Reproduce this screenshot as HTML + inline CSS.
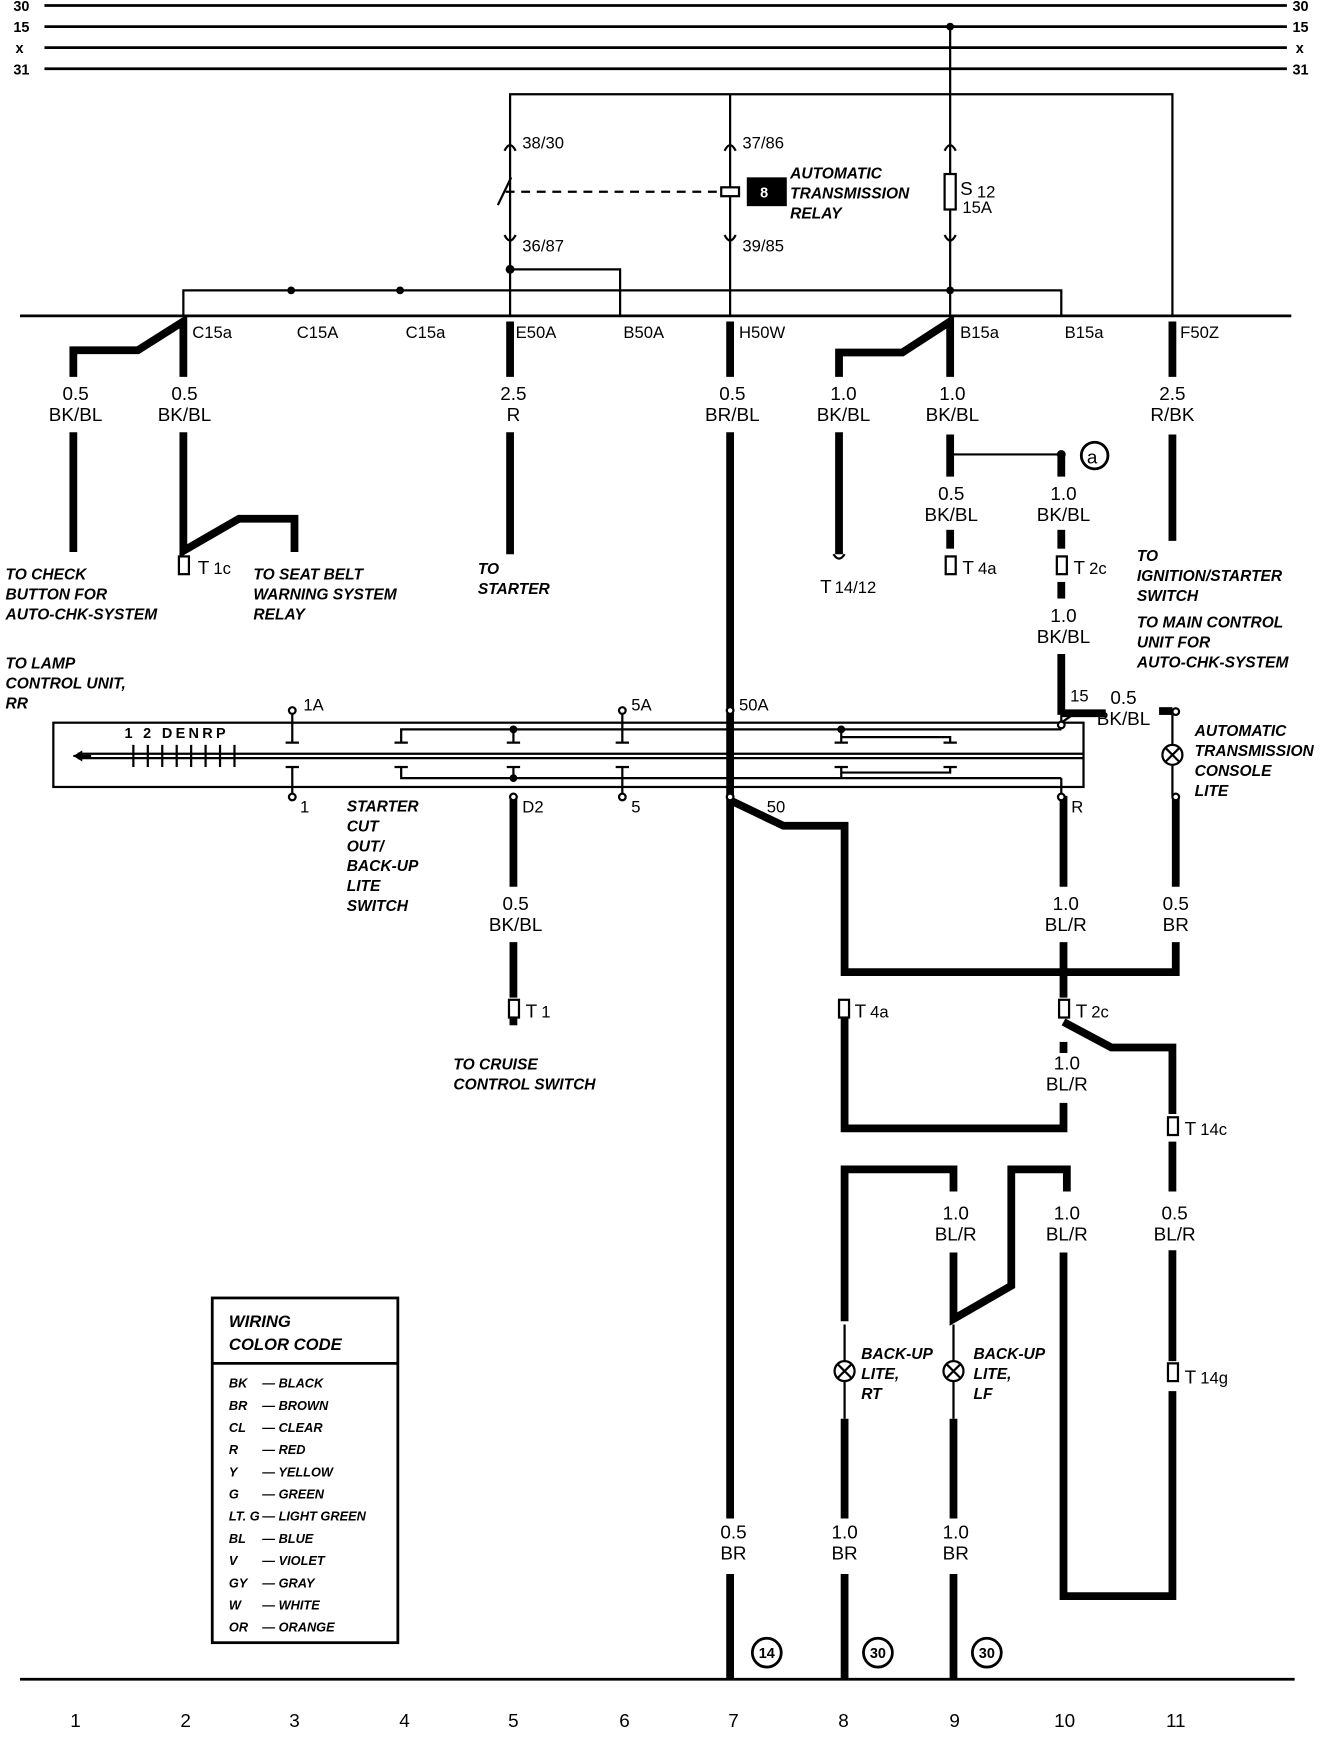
<!DOCTYPE html>
<html><head><meta charset="utf-8"><style>
html,body{margin:0;padding:0;background:#fff;}
svg{display:block;}
.n{font-family:"Liberation Sans",sans-serif;font-size:17px;fill:#000;}
.s{font-family:"Liberation Sans",sans-serif;font-size:15px;fill:#000;}
.b{font-family:"Liberation Sans",sans-serif;font-size:14px;font-weight:bold;font-style:italic;fill:#000;}
.l{font-family:"Liberation Sans",sans-serif;font-size:11.5px;font-weight:bold;font-style:italic;fill:#000;}
.h{font-family:"Liberation Sans",sans-serif;font-size:13px;font-weight:bold;fill:#000;}
</style></head><body>
<svg width="1328" height="1738" viewBox="0 0 1195 1568" preserveAspectRatio="none" xmlns="http://www.w3.org/2000/svg">
<rect width="1195" height="1568" fill="#fff"/>
<g stroke="#000" fill="none" stroke-width="2.5">
<line x1="40" y1="5" x2="1158" y2="5"/><line x1="40" y1="24" x2="1158" y2="24"/>
<line x1="40" y1="43" x2="1158" y2="43"/><line x1="40" y1="62" x2="1158" y2="62"/>
<line x1="18" y1="285" x2="1162" y2="285"/>
<line x1="18" y1="1515" x2="1165" y2="1515"/>
</g>
<g class="h" font-size="13"><text x="12" y="10">30</text><text x="12" y="29">15</text><text x="14" y="48">x</text><text x="12" y="67">31</text>
<text x="1163" y="10">30</text><text x="1163" y="29">15</text><text x="1166" y="48">x</text><text x="1163" y="67">31</text></g>
<g stroke="#000" fill="none" stroke-width="2">
<polyline points="459,285 459,85 1055,85 1055,285"/>
<line x1="657" y1="85" x2="657" y2="285"/>
<line x1="855" y1="24" x2="855" y2="285"/>
<polyline points="459,243 558,243 558,285"/>
<polyline points="165,285 165,262 955,262 955,285"/>
<line x1="455" y1="173" x2="650" y2="173" stroke-dasharray="8,6"/>
<line x1="448" y1="185" x2="460" y2="160"/>
<rect x="649" y="169" width="16" height="8" fill="#fff"/>
<rect x="850" y="157" width="10" height="32" fill="#fff"/>
<path d="M454,136 Q459,126 464,136 M652,136 Q657,126 662,136 M850,136 Q855,126 860,136"/>
<path d="M454,212 Q459,222 464,212 M652,212 Q657,222 662,212 M850,212 Q855,222 860,212"/>
<polyline points="855,410 955,410"/>
</g>
<g fill="#000"><circle cx="855" cy="24" r="3.5"/><circle cx="262" cy="262" r="3.5"/><circle cx="360" cy="262" r="3.5"/><circle cx="855" cy="262" r="3.5"/><circle cx="459" cy="243" r="4"/><circle cx="955" cy="410" r="4"/></g>
<rect x="672" y="160" width="36" height="26" fill="#000"/>
<text x="684" y="178" class="h" style="fill:#fff">8</text>
<text x="711" y="161" class="b">AUTOMATIC</text><text x="711" y="179" class="b">TRANSMISSION</text><text x="711" y="197" class="b">RELAY</text>
<text x="864" y="176" class="n" font-size="22">S</text><text x="879" y="178" class="s">12</text><text x="866" y="192" class="s">15A</text>
<g class="s"><text x="470" y="134">38/30</text><text x="668" y="134">37/86</text><text x="470" y="227">36/87</text><text x="668" y="227">39/85</text>
<text x="173" y="305">C15a</text><text x="267" y="305">C15A</text><text x="365" y="305">C15a</text><text x="464" y="305">E50A</text><text x="561" y="305">B50A</text><text x="665" y="305">H50W</text><text x="864" y="305">B15a</text><text x="958" y="305">B15a</text><text x="1062" y="305">F50Z</text></g>
<g stroke="#000" fill="none" stroke-width="7" stroke-linejoin="miter">
<polyline points="66,340 66,316 124,316 165,290 165,340"/>
<line x1="66" y1="390" x2="66" y2="498"/>
<polyline points="165,390 165,497 215,468 265,468 265,498"/>
<line x1="459" y1="290" x2="459" y2="340"/><line x1="459" y1="390" x2="459" y2="500"/>
<line x1="657" y1="290" x2="657" y2="340"/><line x1="657" y1="390" x2="657" y2="1370"/><line x1="657" y1="1420" x2="657" y2="1515"/>
<polyline points="755,340 755,318 812,318 855,290 855,340"/>
<line x1="755" y1="390" x2="755" y2="500"/>
<line x1="855" y1="392" x2="855" y2="430"/><line x1="855" y1="478" x2="855" y2="495"/>
<line x1="955" y1="410" x2="955" y2="430"/><line x1="955" y1="478" x2="955" y2="495"/>
<line x1="955" y1="525" x2="955" y2="540"/><line x1="955" y1="590" x2="955" y2="645"/>
<line x1="1055" y1="290" x2="1055" y2="340"/><line x1="1055" y1="392" x2="1055" y2="488"/>
<polyline points="657,722 705,745 760,745 760,877 1058,877 1058,850"/>
<line x1="1058" y1="718" x2="1058" y2="800"/>
<line x1="957" y1="718" x2="957" y2="800"/><line x1="957" y1="850" x2="957" y2="900"/>
<polyline points="957,922 1000,945 1055,945 1055,1005"/>
<line x1="1055" y1="1030" x2="1055" y2="1075"/><line x1="1055" y1="1128" x2="1055" y2="1228"/>
<polyline points="1055,1255 1055,1440 957,1440 957,1130"/>
<polyline points="957,940 957,950"/><polyline points="957,995 957,1018 760,1018 760,918"/>
<polyline points="760,1192 760,1055 858,1055 858,1075"/>
<polyline points="858,1130 858,1190 910,1160 910,1055 960,1055 960,1075"/>
<line x1="760" y1="1280" x2="760" y2="1370"/><line x1="760" y1="1420" x2="760" y2="1515"/>
<line x1="858" y1="1280" x2="858" y2="1370"/><line x1="858" y1="1420" x2="858" y2="1515"/>
<line x1="462" y1="718" x2="462" y2="800"/><line x1="462" y1="850" x2="462" y2="900"/>
<line x1="462" y1="918" x2="462" y2="925"/>
</g>
<g stroke="#000" stroke-width="2" fill="none">
<line x1="760" y1="1195" x2="760" y2="1280"/><line x1="858" y1="1195" x2="858" y2="1280"/>
<line x1="1055" y1="645" x2="1055" y2="718"/>
<rect x="48" y="652" width="927" height="58"/>
<line x1="70" y1="680" x2="975" y2="680"/><line x1="70" y1="684" x2="975" y2="684"/>
<polyline points="263,643 263,670"/><polyline points="263,692 263,718"/>
<polyline points="361,670 361,658 955,658"/><polyline points="361,692 361,702 955,702"/>
<line x1="462" y1="658" x2="462" y2="670"/><line x1="462" y1="692" x2="462" y2="702"/>
<line x1="560" y1="643" x2="560" y2="670"/><line x1="560" y1="692" x2="560" y2="718"/>
<line x1="657" y1="643" x2="657" y2="718"/>
<polyline points="757,658 757,670"/><polyline points="757,692 757,702"/>
<polyline points="855,670 855,665 757,665"/><polyline points="855,692 855,697 757,697"/>
<polyline points="955,645 955,658"/><polyline points="955,702 955,718"/>
<line x1="955" y1="652" x2="965" y2="645"/>
<line x1="66" y1="682" x2="82" y2="682"/>
</g>
<polygon points="66,682 74,677 74,687" fill="#000"/>
<g stroke="#000" stroke-width="2">
<line x1="120" y1="672" x2="120" y2="692"/><line x1="133" y1="672" x2="133" y2="692"/><line x1="146" y1="672" x2="146" y2="692"/><line x1="159" y1="672" x2="159" y2="692"/><line x1="172" y1="672" x2="172" y2="692"/><line x1="185" y1="672" x2="185" y2="692"/><line x1="198" y1="672" x2="198" y2="692"/><line x1="211" y1="672" x2="211" y2="692"/>
<line x1="257" y1="670" x2="269" y2="670"/><line x1="257" y1="692" x2="269" y2="692"/>
<line x1="355" y1="670" x2="367" y2="670"/><line x1="355" y1="692" x2="367" y2="692"/>
<line x1="456" y1="670" x2="468" y2="670"/><line x1="456" y1="692" x2="468" y2="692"/>
<line x1="554" y1="670" x2="566" y2="670"/><line x1="554" y1="692" x2="566" y2="692"/>
<line x1="751" y1="670" x2="763" y2="670"/><line x1="751" y1="692" x2="763" y2="692"/>
<line x1="849" y1="670" x2="861" y2="670"/><line x1="849" y1="692" x2="861" y2="692"/>
</g>
<g fill="#000"><circle cx="462" cy="658" r="3.5"/><circle cx="657" cy="662" r="3"/><circle cx="657" cy="672" r="3"/><circle cx="657" cy="692" r="3"/><circle cx="657" cy="702" r="3"/><circle cx="757" cy="658" r="3.5"/><circle cx="462" cy="702" r="3.5"/><rect x="955" y="640" width="40" height="7"/><rect x="1043" y="638" width="12" height="7"/></g>
<g fill="#fff" stroke="#000" stroke-width="2">
<circle cx="263" cy="641" r="3"/><circle cx="263" cy="719" r="3"/><circle cx="560" cy="641" r="3"/><circle cx="560" cy="719" r="3"/><circle cx="657" cy="641" r="3"/><circle cx="657" cy="719" r="3"/><circle cx="955" cy="654" r="3"/><circle cx="955" cy="719" r="3"/><circle cx="462" cy="719" r="3"/><circle cx="1058" cy="642" r="3"/><circle cx="1058" cy="719" r="3"/>
<circle cx="1055" cy="681" r="9"/><circle cx="760" cy="1237" r="9"/><circle cx="858" cy="1237" r="9"/>
</g>
<g stroke="#000" stroke-width="2"><line x1="1049" y1="675" x2="1061" y2="687"/><line x1="1061" y1="675" x2="1049" y2="687"/>
<line x1="754" y1="1231" x2="766" y2="1243"/><line x1="766" y1="1231" x2="754" y2="1243"/>
<line x1="852" y1="1231" x2="864" y2="1243"/><line x1="864" y1="1231" x2="852" y2="1243"/></g>
<g stroke="#000" stroke-width="2" fill="#fff">
<rect x="161" y="502" width="9" height="16"/><rect x="851" y="502" width="9" height="16"/><rect x="951" y="502" width="9" height="16"/>
<rect x="458" y="902" width="9" height="16"/><rect x="755" y="902" width="9" height="16"/><rect x="953" y="902" width="9" height="16"/>
<rect x="1051" y="1008" width="9" height="16"/><rect x="1051" y="1230" width="9" height="16"/>
</g>
<path d="M750,500 Q755,508 760,500" stroke="#000" stroke-width="2" fill="none"/>
<g class="n" font-size="20">
<text x="178" y="518">T</text><text x="866" y="518">T</text><text x="966" y="518">T</text><text x="738" y="535">T</text>
<text x="473" y="918">T</text><text x="769" y="918">T</text><text x="968" y="918">T</text><text x="1066" y="1024">T</text><text x="1066" y="1248">T</text></g>
<g class="s"><text x="192" y="518">1c</text><text x="880" y="518">4a</text><text x="980" y="518">2c</text><text x="751" y="535">14/12</text>
<text x="487" y="918">1</text><text x="783" y="918">4a</text><text x="982" y="918">2c</text><text x="1080" y="1024">14c</text><text x="1080" y="1248">14g</text>
<text x="273" y="641">1A</text><text x="568" y="641">5A</text><text x="665" y="641">50A</text><text x="963" y="633">15</text>
<text x="270" y="733">1</text><text x="470" y="733">D2</text><text x="568" y="733">5</text><text x="690" y="733">50</text><text x="964" y="733">R</text></g>
<circle cx="985" cy="411" r="12" stroke="#000" stroke-width="2.5" fill="#fff"/><text x="978" y="418" class="n">a</text>
<g class="n" text-anchor="middle">
<text x="68" y="361">0.5</text><text x="68" y="380">BK/BL</text>
<text x="166" y="361">0.5</text><text x="166" y="380">BK/BL</text>
<text x="462" y="361">2.5</text><text x="462" y="380">R</text>
<text x="659" y="361">0.5</text><text x="659" y="380">BR/BL</text>
<text x="759" y="361">1.0</text><text x="759" y="380">BK/BL</text>
<text x="857" y="361">1.0</text><text x="857" y="380">BK/BL</text>
<text x="1055" y="361">2.5</text><text x="1055" y="380">R/BK</text>
<text x="856" y="451">0.5</text><text x="856" y="470">BK/BL</text>
<text x="957" y="451">1.0</text><text x="957" y="470">BK/BL</text>
<text x="957" y="561">1.0</text><text x="957" y="580">BK/BL</text>
<text x="1011" y="635">0.5</text><text x="1011" y="654">BK/BL</text>
<text x="464" y="821">0.5</text><text x="464" y="840">BK/BL</text>
<text x="959" y="821">1.0</text><text x="959" y="840">BL/R</text>
<text x="1058" y="821">0.5</text><text x="1058" y="840">BR</text>
<text x="960" y="965">1.0</text><text x="960" y="984">BL/R</text>
<text x="860" y="1100">1.0</text><text x="860" y="1119">BL/R</text>
<text x="960" y="1100">1.0</text><text x="960" y="1119">BL/R</text>
<text x="1057" y="1100">0.5</text><text x="1057" y="1119">BL/R</text>
<text x="660" y="1388">0.5</text><text x="660" y="1407">BR</text>
<text x="760" y="1388">1.0</text><text x="760" y="1407">BR</text>
<text x="860" y="1388">1.0</text><text x="860" y="1407">BR</text>
<text x="68" y="1558">1</text><text x="167" y="1558">2</text><text x="265" y="1558">3</text><text x="364" y="1558">4</text><text x="462" y="1558">5</text><text x="562" y="1558">6</text><text x="660" y="1558">7</text><text x="759" y="1558">8</text><text x="859" y="1558">9</text><text x="958" y="1558">10</text><text x="1058" y="1558">11</text>
</g>
<g fill="#fff" stroke="#000" stroke-width="2.5"><circle cx="690" cy="1491" r="13"/><circle cx="790" cy="1491" r="13"/><circle cx="888" cy="1491" r="13"/></g>
<g class="h" text-anchor="middle"><text x="690" y="1496">14</text><text x="790" y="1496">30</text><text x="888" y="1496">30</text></g>
<text x="112" y="666" class="h" font-size="12" letter-spacing="3">1 2 DENRP</text>
<g class="b">
<text x="5" y="523">TO CHECK</text><text x="5" y="541">BUTTON FOR</text><text x="5" y="559">AUTO-CHK-SYSTEM</text>
<text x="228" y="523">TO SEAT BELT</text><text x="228" y="541">WARNING SYSTEM</text><text x="228" y="559">RELAY</text>
<text x="430" y="518">TO</text><text x="430" y="536">STARTER</text>
<text x="1023" y="506">TO</text><text x="1023" y="524">IGNITION/STARTER</text><text x="1023" y="542">SWITCH</text>
<text x="1023" y="566">TO MAIN CONTROL</text><text x="1023" y="584">UNIT FOR</text><text x="1023" y="602">AUTO-CHK-SYSTEM</text>
<text x="5" y="603">TO LAMP</text><text x="5" y="621">CONTROL UNIT,</text><text x="5" y="639">RR</text>
<text x="1075" y="664">AUTOMATIC</text><text x="1075" y="682">TRANSMISSION</text><text x="1075" y="700">CONSOLE</text><text x="1075" y="718">LITE</text>
<text x="312" y="732">STARTER</text><text x="312" y="750">CUT</text><text x="312" y="768">OUT/</text><text x="312" y="786">BACK-UP</text><text x="312" y="804">LITE</text><text x="312" y="822">SWITCH</text>
<text x="408" y="965">TO CRUISE</text><text x="408" y="983">CONTROL SWITCH</text>
<text x="775" y="1226">BACK-UP</text><text x="775" y="1244">LITE,</text><text x="775" y="1262">RT</text>
<text x="876" y="1226">BACK-UP</text><text x="876" y="1244">LITE,</text><text x="876" y="1262">LF</text>
<text x="206" y="1197" font-size="15">WIRING</text><text x="206" y="1218" font-size="15">COLOR CODE</text>
</g>
<rect x="191" y="1171" width="167" height="311" fill="none" stroke="#000" stroke-width="2.5"/>
<line x1="191" y1="1230" x2="358" y2="1230" stroke="#000" stroke-width="2.5"/>
<g class="l">
<text x="206" y="1252">BK</text><text x="236" y="1252">— BLACK</text>
<text x="206" y="1272">BR</text><text x="236" y="1272">— BROWN</text>
<text x="206" y="1292">CL</text><text x="236" y="1292">— CLEAR</text>
<text x="206" y="1312">R</text><text x="236" y="1312">— RED</text>
<text x="206" y="1332">Y</text><text x="236" y="1332">— YELLOW</text>
<text x="206" y="1352">G</text><text x="236" y="1352">— GREEN</text>
<text x="206" y="1372">LT. G</text><text x="236" y="1372">— LIGHT GREEN</text>
<text x="206" y="1392">BL</text><text x="236" y="1392">— BLUE</text>
<text x="206" y="1412">V</text><text x="236" y="1412">— VIOLET</text>
<text x="206" y="1432">GY</text><text x="236" y="1432">— GRAY</text>
<text x="206" y="1452">W</text><text x="236" y="1452">— WHITE</text>
<text x="206" y="1472">OR</text><text x="236" y="1472">— ORANGE</text>
</g>
</svg>
</body></html>
